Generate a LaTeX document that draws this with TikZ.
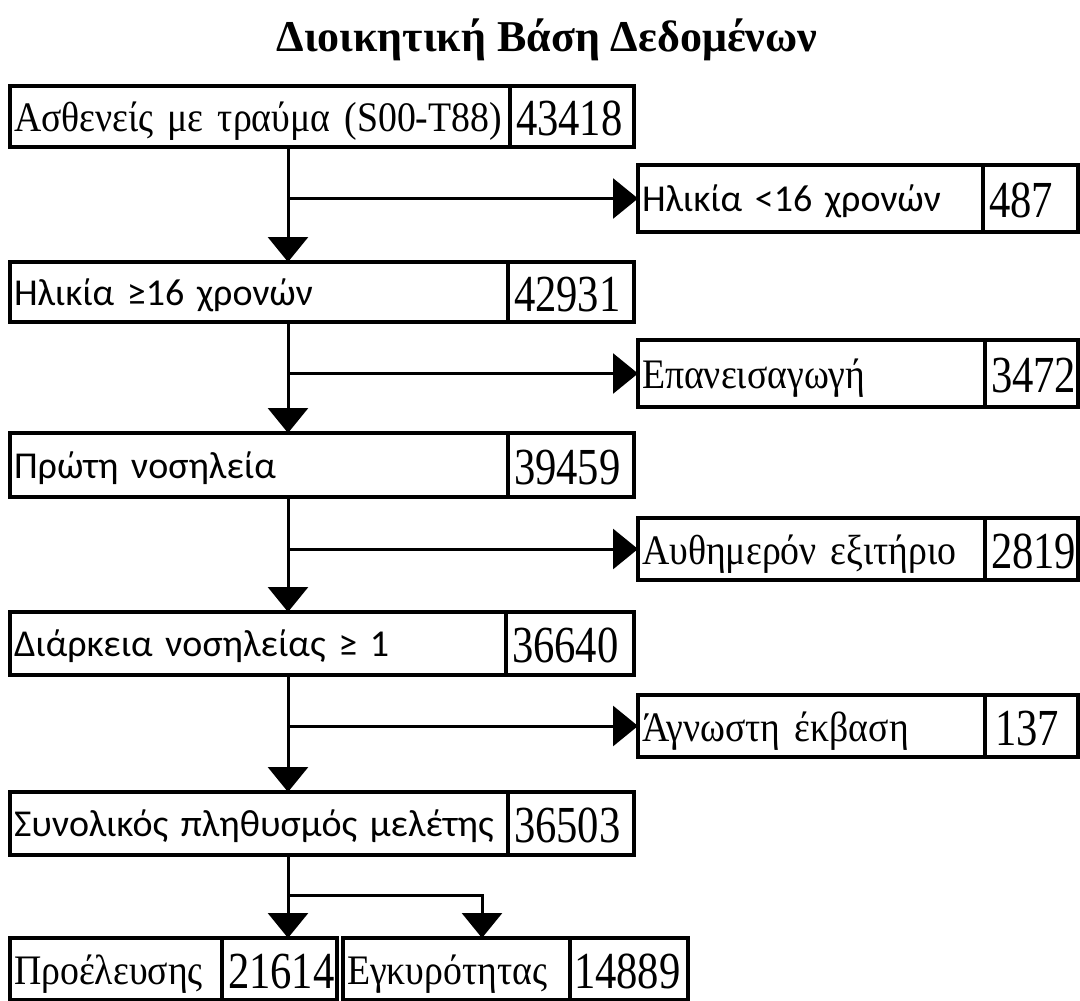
\documentclass[tikz,border=0pt]{standalone}
\usepackage{fontspec}
\setmainfont{Liberation Serif}
\newfontfamily\lblfont[FakeStretch=0.9]{Liberation Serif}
\newfontfamily\numfont[FakeStretch=0.82]{Liberation Serif}
\newfontfamily\sansfont{Carlito}
\usetikzlibrary{arrows.meta,calc}
\tikzset{
  cell/.style={draw, line width=3.5pt, anchor=north west, inner ysep=0pt, outer sep=0pt},
  lbl/.style={cell, inner xsep=4pt, align=left, text depth=0pt, text height=30pt, font=\lblfont\fontsize{42}{42}\selectfont},
  slbl/.style={cell, inner xsep=4pt, align=left, text depth=0pt, text height=26pt, font=\sansfont\fontsize{38}{38}\selectfont},
  num/.style={cell, inner xsep=6pt, align=left, text depth=0pt, text height=38pt, font=\numfont\fontsize{52}{52}\selectfont},
  conn/.style={line width=3pt},
  arr/.style={conn, -{Triangle[width=40pt,length=25pt]}},
}
\begin{document}
\begin{tikzpicture}[x=1pt,y=-1pt]
\useasboundingbox (0,0) rectangle (1080,1001);
\fill[white] (0,0) rectangle (1080,1001);
\node[font=\bfseries\fontsize{44}{44}\selectfont, anchor=base] (title) at (547,51) {Διοικητική Βάση Δεδομένων};

% left column
\node[lbl, text width=492pt, minimum height=61pt] (b1) at (10,86) {\mbox{Ασθενείς με τραύμα (S00-T88)}};
\node[num, text width=112pt, minimum height=61pt] (b1n) at (b1.north east) {43418};
\node[slbl, text width=490pt, minimum height=60pt] (b2) at (10,262) {Ηλικία ≥16 χρονών};
\node[num, text width=114pt, minimum height=60pt] (b2n) at (b2.north east) {42931};
\node[slbl, text width=490pt, minimum height=64pt] (b3) at (10,433) {Πρώτη νοσηλεία};
\node[num, text width=114pt, minimum height=64pt] (b3n) at (b3.north east) {39459};
\node[slbl, text width=488pt, minimum height=63pt] (b4) at (10,612) {Διάρκεια νοσηλείας ≥ 1};
\node[num, text width=116pt, minimum height=63pt] (b4n) at (b4.north east) {36640};
\node[slbl, text width=490pt, minimum height=63pt] (b5) at (10,792) {Συνολικός πληθυσμός μελέτης};
\node[num, text width=114pt, minimum height=63pt] (b5n) at (b5.north east) {36503};

% right column
\node[slbl, text width=337pt, minimum height=67pt] (r1) at (638,165) {Ηλικία <16 χρονών};
\node[num, text width=83pt, minimum height=67pt] (r1n) at (r1.north east) {487};
\node[lbl, text width=339pt, minimum height=67pt] (r2) at (638,340) {Επανεισαγωγή};
\node[num, text width=81pt, minimum height=67pt] (r2n) at (r2.north east) {3472};
\node[lbl, text width=339pt, minimum height=62pt] (r3) at (638,518) {Αυθημερόν εξιτήριο};
\node[num, text width=81pt, minimum height=62pt] (r3n) at (r3.north east) {2819};
\node[lbl, text width=339pt, minimum height=62pt] (r4) at (638,695) {Άγνωστη έκβαση};
\node[num, inner xsep=10pt, text width=73pt, minimum height=62pt] (r4n) at (r4.north east) {137};

% bottom
\node[lbl, text width=204pt, minimum height=62pt] (p) at (10,938) {Προέλευσης};
\node[num, text width=103pt, minimum height=62pt] (pn) at (p.north east) {21614};
\node[lbl, text width=219pt, minimum height=62pt] (e) at (343,938) {Εγκυρότητας};
\node[num, inner xsep=4pt, text width=110pt, minimum height=62pt] (en) at (e.north east) {14889};

% connectors
\coordinate (t) at (288,0);
\coordinate (t2) at (482,0);
\draw[arr] (b1.south -| t) -- (b2.north -| t);
\draw[arr] (t |- r1.west) -- (r1.west);
\draw[arr] (b2.south -| t) -- (b3.north -| t);
\draw[arr] (t |- r2.west) -- (r2.west);
\draw[arr] (b3.south -| t) -- (b4.north -| t);
\draw[arr] (t |- r3.west) -- (r3.west);
\draw[arr] (b4.south -| t) -- (b5.north -| t);
\draw[arr] (t |- r4.west) -- (r4.west);
\draw[arr] (b5.south -| t) -- (pn.north -| t);
\coordinate (split) at (288,895);
\draw[arr] (split) -| (en.north -| t2);
\end{tikzpicture}
\end{document}
